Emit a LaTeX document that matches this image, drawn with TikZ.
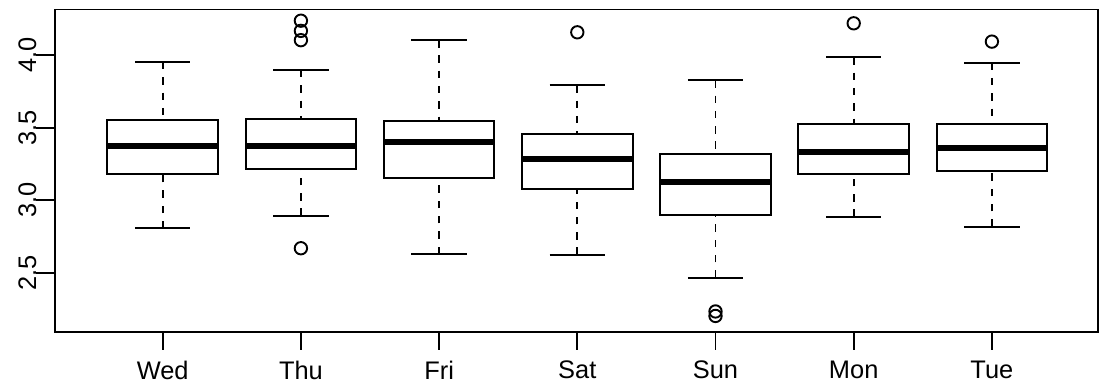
\documentclass[tikz,border=0pt]{standalone}
\usepackage{fontspec}
\setmainfont{Liberation Sans}
\begin{document}
\begin{tikzpicture}[x=138.2bp, y=145.3bp, line width=1.9bp,
	whisk/.style={dash pattern=on 7.5bp off 7.8bp},
	med/.style={line width=5.8bp},
	font=\fontsize{25.5}{30}\selectfont]
	\useasboundingbox (-0.1773,1.7288) rectangle (7.775,4.3785);
	\draw (0.22,2.0956) rectangle (7.77,4.313);
	% y axis
	\foreach \v in {2.5,3.0,3.5,4.0}{
		\draw (0.0832,\v) -- (0.22,\v);
		\node[rotate=90] at (0.02,\v) {\v};
	}
	% days: position/lower whisker/Q1/median/Q3/upper whisker/name
	\foreach \i/\lo/\qa/\md/\qb/\hi/\day in {
		1/2.807/3.183/3.376/3.553/3.952/Wed,
		2/2.892/3.215/3.374/3.560/3.897/Thu,
		3/2.630/3.156/3.399/3.548/4.103/Fri,
		4/2.624/3.080/3.284/3.456/3.791/Sat,
		5/2.467/2.901/3.126/3.319/3.826/Sun,
		6/2.885/3.183/3.330/3.523/3.984/Mon,
		7/2.818/3.202/3.362/3.523/3.947/Tue}{
		\draw[whisk] (\i,\hi) -- (\i,\qb) (\i,\lo) -- (\i,\qa);
		\draw (\i-0.2,\lo) -- (\i+0.2,\lo) (\i-0.2,\hi) -- (\i+0.2,\hi);
		\draw[fill=white] (\i-0.4,\qa) rectangle (\i+0.4,\qb);
		\draw[med] (\i-0.4,\md) -- (\i+0.4,\md);
		\draw (\i,2.0956) -- (\i,1.970);
		\node (\day) at (\i,1.832) {\day};
	}
	% outliers
	\foreach \i/\v in {2/4.236,2/4.166,2/4.102,2/2.670,4/4.156,5/2.235,5/2.204,6/4.218,7/4.092}
		\draw (\i,\v) circle (6.2bp);
\end{tikzpicture}
\end{document}
